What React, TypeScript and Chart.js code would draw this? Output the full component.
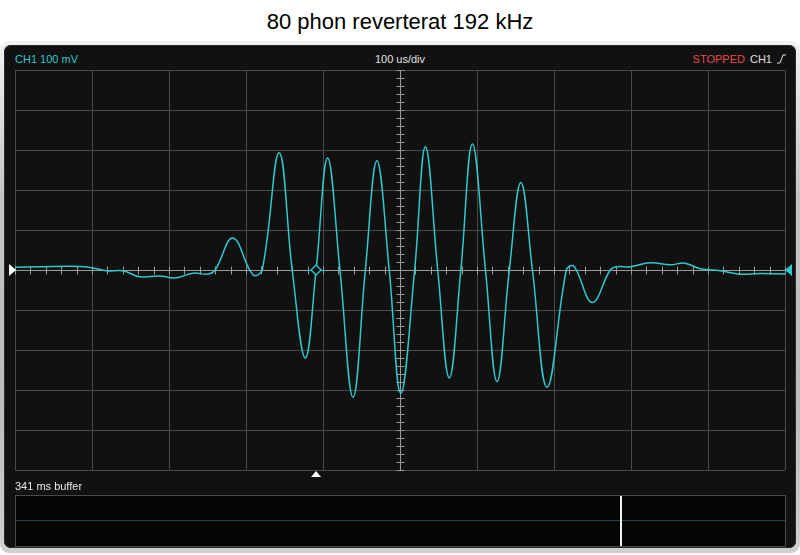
import React, { useEffect, useRef } from "react";
import { Chart, registerables } from "chart.js";

Chart.register(...registerables);

const TITLE = "80 phon reverterat 192 kHz";
const CH_LABEL = "CH1 100 mV";
const TIMEBASE_LABEL = "100 us/div";
const STATUS_LABEL = "STOPPED";
const TRIG_CH_LABEL = "CH1";
const BUFFER_LABEL = "341 ms buffer";

// time axis in microseconds (100 us/div, 10 divisions)
const X_MIN = -500;
const X_MAX = 500;
const X_STEP = 100;
// voltage axis in millivolts (100 mV/div, 10 divisions)
const Y_MIN = -500;
const Y_MAX = 500;
const Y_STEP = 100;

const TRIGGER_US = -109;
const TRIGGER_MV = 0;

// waveform samples (time in us, voltage in mV)
const timeUs = [
  -500, -470, -416, -399, -381, -360, -338, -312, -292, -269, -249, -240,
  -217, -191, -179, -157, -140, -123, -109, -94, -78, -61, -45, -30, -14,
  1, 19, 33, 49, 64, 79, 94, 111, 126, 142, 157, 172, 191, 216, 224, 229,
  250, 273, 282, 299, 325, 351, 370, 390, 416, 439, 468, 500,
];
const voltMv = [
  7, 8, 9, 5, -2, -2, -17, -15, -20, -8, -10, 0,
  80, -12, 0, 293, 0, -220, 0, 280, 0, -318, 0, 273, 0,
  -308, 0, 308, 0, -270, 0, 315, 0, -279, 0, 219, 0, -293, 0, 11, 0,
  -81, 0, 8, 8, 18, 13, 17, 3, -2, -10, -9, -10,
];

const TRACE = "#2cc9cf";
const GRID = "#4a4a4a";
const AXIS = "#9a9a9a";

const scopePlugin = {
  id: "scopeOverlay",
  beforeDatasetsDraw(chart: any) {
    const { ctx, chartArea, scales } = chart;
    const xs = scales.x;
    const ys = scales.y;
    const y0 = Math.round(ys.getPixelForValue(0)) + 0.5;
    const x0 = Math.round(xs.getPixelForValue(0)) + 0.5;
    ctx.save();
    ctx.strokeStyle = AXIS;
    ctx.lineWidth = 1;
    ctx.beginPath();
    ctx.moveTo(chartArea.left, y0);
    ctx.lineTo(chartArea.right, y0);
    ctx.moveTo(x0, chartArea.top);
    ctx.lineTo(x0, chartArea.bottom);
    for (let t = X_MIN; t <= X_MAX; t += X_STEP / 5) {
      const px = Math.round(xs.getPixelForValue(t)) + 0.5;
      ctx.moveTo(px, y0 - 4);
      ctx.lineTo(px, y0 + 4);
    }
    for (let v = Y_MIN; v <= Y_MAX; v += Y_STEP / 5) {
      const py = Math.round(ys.getPixelForValue(v)) + 0.5;
      ctx.moveTo(x0 - 4, py);
      ctx.lineTo(x0 + 4, py);
    }
    ctx.stroke();
    ctx.restore();
  },
  afterDatasetsDraw(chart: any) {
    const { ctx, chartArea, scales } = chart;
    const xs = scales.x;
    const ys = scales.y;
    const y0 = ys.getPixelForValue(0);
    const tx = xs.getPixelForValue(TRIGGER_US);
    const ty = ys.getPixelForValue(TRIGGER_MV);
    ctx.save();
    // channel ground marker (left)
    ctx.fillStyle = "#ffffff";
    ctx.beginPath();
    ctx.moveTo(chartArea.left - 6, y0 - 6);
    ctx.lineTo(chartArea.left - 6, y0 + 6);
    ctx.lineTo(chartArea.left + 1, y0);
    ctx.closePath();
    ctx.fill();
    // trigger level marker (right)
    ctx.fillStyle = TRACE;
    ctx.beginPath();
    ctx.moveTo(chartArea.right + 7, y0 - 6);
    ctx.lineTo(chartArea.right + 7, y0 + 6);
    ctx.lineTo(chartArea.right, y0);
    ctx.closePath();
    ctx.fill();
    // trigger point diamond
    ctx.strokeStyle = TRACE;
    ctx.lineWidth = 1;
    ctx.beginPath();
    ctx.moveTo(tx - 10, Math.round(ty) + 0.5);
    ctx.lineTo(tx + 10, Math.round(ty) + 0.5);
    ctx.moveTo(Math.round(tx) + 0.5, ty - 9);
    ctx.lineTo(Math.round(tx) + 0.5, ty + 4);
    ctx.stroke();
    ctx.fillStyle = "#111111";
    ctx.beginPath();
    ctx.moveTo(tx, ty - 5);
    ctx.lineTo(tx + 5, ty);
    ctx.lineTo(tx, ty + 5);
    ctx.lineTo(tx - 5, ty);
    ctx.closePath();
    ctx.fill();
    ctx.lineWidth = 1.3;
    ctx.stroke();
    // trigger time marker (below plot)
    ctx.fillStyle = "#ffffff";
    ctx.beginPath();
    ctx.moveTo(tx, chartArea.bottom + 1);
    ctx.lineTo(tx + 5, chartArea.bottom + 7);
    ctx.lineTo(tx - 5, chartArea.bottom + 7);
    ctx.closePath();
    ctx.fill();
    ctx.restore();
  },
};

export default function App() {
  const canvasRef = useRef<HTMLCanvasElement | null>(null);

  useEffect(() => {
    const canvas = canvasRef.current;
    if (!canvas) return;
    const data = timeUs.map((t, i) => ({ x: t, y: voltMv[i] }));
    const chart = new Chart(canvas, {
      type: "line",
      data: {
        datasets: [
          {
            data,
            borderColor: TRACE,
            borderWidth: 1.5,
            pointRadius: 0,
            tension: 0.4,
            cubicInterpolationMode: "default",
            fill: false,
          },
        ],
      },
      options: {
        animation: false,
        responsive: false,
        maintainAspectRatio: false,
        devicePixelRatio: 1,
        layout: { padding: { left: 15, right: 15, top: 70, bottom: 10 } },
        plugins: {
          legend: { display: false },
          tooltip: { enabled: false },
          title: { display: false },
        },
        scales: {
          x: {
            type: "linear",
            min: X_MIN,
            max: X_MAX,
            ticks: { display: false, stepSize: X_STEP },
            grid: { color: GRID, drawTicks: false, lineWidth: 1 },
            border: { display: false },
          },
          y: {
            type: "linear",
            min: Y_MIN,
            max: Y_MAX,
            ticks: { display: false, stepSize: Y_STEP },
            grid: { color: GRID, drawTicks: false, lineWidth: 1 },
            border: { display: false },
          },
        },
      } as any,
      plugins: [scopePlugin],
    });
    return () => chart.destroy();
  }, []);

  const font = 'Arial, "Liberation Sans", sans-serif';

  return (
    <div
      style={{
        position: "fixed",
        left: 0,
        top: 0,
        width: 800,
        height: 555,
        background: "#ffffff",
        fontFamily: font,
        overflow: "hidden",
      }}
    >
      <div
        style={{
          position: "absolute",
          left: 0,
          top: 7,
          width: 800,
          textAlign: "center",
          fontSize: 22,
          lineHeight: "30px",
          color: "#000",
        }}
      >
        {TITLE}
      </div>
      <div
        style={{
          position: "absolute",
          left: 0,
          top: 41,
          width: 800,
          height: 512,
          borderRadius: 9,
          background: "linear-gradient(#f2f2f2, #c4c4c4 30%, #bcbcbc 70%, #cfcfcf)",
        }}
      />
      <div
        style={{
          position: "absolute",
          left: 4,
          top: 45,
          width: 792,
          height: 503,
          borderRadius: 7,
          background: "#111111",
          boxShadow: "inset 0 0 0 1px #2a2a2a",
        }}
      />
      <div
        style={{
          position: "absolute",
          left: 15,
          top: 52,
          fontSize: 11,
          lineHeight: "14px",
          color: TRACE,
        }}
      >
        {CH_LABEL}
      </div>
      <div
        style={{
          position: "absolute",
          left: 300,
          top: 52,
          width: 200,
          textAlign: "center",
          fontSize: 11,
          lineHeight: "14px",
          color: "#e0e0e0",
        }}
      >
        {TIMEBASE_LABEL}
      </div>
      <div
        style={{
          position: "absolute",
          right: 14,
          top: 52,
          fontSize: 11,
          lineHeight: "14px",
          color: "#e0e0e0",
          display: "flex",
          alignItems: "center",
          gap: 5,
        }}
      >
        <span style={{ color: "#e84a4a" }}>{STATUS_LABEL}</span>
        <span>{TRIG_CH_LABEL}</span>
        <svg width="9" height="10" viewBox="0 0 9 10">
          <path d="M0 9 L3 9 L6 1 L9 1" stroke="#e0e0e0" strokeWidth="1" fill="none" />
        </svg>
      </div>
      <canvas
        ref={canvasRef}
        width={800}
        height={480}
        style={{ position: "absolute", left: 0, top: 0, width: 800, height: 480 }}
      />
      <div
        style={{
          position: "absolute",
          left: 15,
          top: 479,
          fontSize: 11,
          lineHeight: "14px",
          color: "#e8e8e8",
        }}
      >
        {BUFFER_LABEL}
      </div>
      <div
        style={{
          position: "absolute",
          left: 15,
          top: 495,
          width: 769,
          height: 50,
          background: "#050505",
          border: "1px solid #4a4a4a",
        }}
      >
        <div
          style={{
            position: "absolute",
            left: 0,
            top: 24,
            width: 769,
            height: 1,
            background: "#1d4447",
          }}
        />
        <div
          style={{
            position: "absolute",
            left: 604,
            top: 0,
            width: 2,
            height: 50,
            background: "#f0f0f0",
          }}
        />
      </div>
    </div>
  );
}
